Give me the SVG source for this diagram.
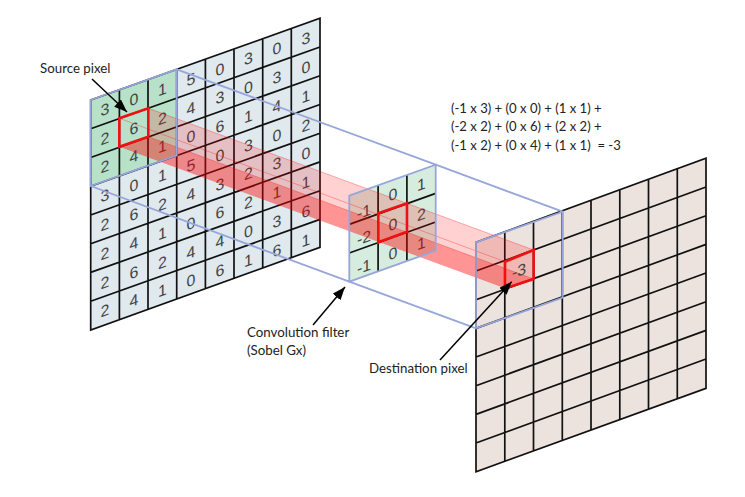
<svg xmlns="http://www.w3.org/2000/svg" width="745" height="497" viewBox="0 0 745 497">
<defs>
<marker id="ah" markerUnits="userSpaceOnUse" markerWidth="14" markerHeight="12" refX="13" refY="5" orient="auto"><path d="M0 0L13 5L0 10Z" fill="#000"/></marker>
</defs>
<style>
.grid{stroke:#111;stroke-width:1.7;fill:none}
.blue{fill:none;stroke:#97a6da;stroke-width:1.8}
.red{fill:none;stroke:#ee1111;stroke-width:2.6}
.n{font:16px "Liberation Sans",Arial,sans-serif;fill:#444;text-anchor:middle}
.l{font:13.3px Lato,"Open Sans",sans-serif;fill:#222}
.f{font:13.1px Lato,"Open Sans",sans-serif;fill:#222}
.arrow{stroke:#000;stroke-width:1.5;fill:none;marker-end:url(#ah)}
</style>
<rect width="745" height="497" fill="#fff"/>
<g id="source-grid">
<path d="M90.7 100L320 18.3V247.3L90.7 330Z" fill="#dfe9ee"/>
<path d="M90.7 100L176.7 69.4V155.4L90.7 186Z" fill="#b7e2c9"/>
<path class="grid" d="M90.7 100L320 18.3V247.3L90.7 330ZM119.4 89.8V319.8M148 79.6V309.6M176.7 69.4V299.4M205.4 59.2V289.2M234 49V279M262.7 38.8V268.8M291.3 28.5V258.5M90.7 128.7L320 47M90.7 157.5L320 75.7M90.7 186.2L320 104.5M90.7 215L320 133.2M90.7 243.7L320 161.9M90.7 272.4L320 190.7M90.7 301.2L320 219.4"/>
<g class="nums">
<text class="n" transform="matrix(1 -.356 0 1 105 115)">3</text><text class="n" transform="matrix(1 -.356 0 1 105 144)">2</text><text class="n" transform="matrix(1 -.356 0 1 105 172)">2</text><text class="n" transform="matrix(1 -.356 0 1 105 201)">3</text><text class="n" transform="matrix(1 -.356 0 1 105 230)">2</text><text class="n" transform="matrix(1 -.356 0 1 105 259)">2</text><text class="n" transform="matrix(1 -.356 0 1 105 288)">2</text><text class="n" transform="matrix(1 -.356 0 1 105 316)">2</text>
<text class="n" transform="matrix(1 -.356 0 1 134 105)">0</text><text class="n" transform="matrix(1 -.356 0 1 134 134)">6</text><text class="n" transform="matrix(1 -.356 0 1 134 162)">4</text><text class="n" transform="matrix(1 -.356 0 1 134 191)">0</text><text class="n" transform="matrix(1 -.356 0 1 134 220)">6</text><text class="n" transform="matrix(1 -.356 0 1 134 249)">4</text><text class="n" transform="matrix(1 -.356 0 1 134 278)">6</text><text class="n" transform="matrix(1 -.356 0 1 134 306)">4</text>
<text class="n" transform="matrix(1 -.356 0 1 162.500 95)">1</text><text class="n" transform="matrix(1 -.356 0 1 162.500 124)">2</text><text class="n" transform="matrix(1 -.356 0 1 162.500 152)">1</text><text class="n" transform="matrix(1 -.356 0 1 162.500 181)">1</text><text class="n" transform="matrix(1 -.356 0 1 162.500 210)">2</text><text class="n" transform="matrix(1 -.356 0 1 162.500 239)">1</text><text class="n" transform="matrix(1 -.356 0 1 162.500 268)">2</text><text class="n" transform="matrix(1 -.356 0 1 162.500 296)">1</text>
<text class="n" transform="matrix(1 -.356 0 1 191 85)">5</text><text class="n" transform="matrix(1 -.356 0 1 191 114)">4</text><text class="n" transform="matrix(1 -.356 0 1 191 142)">0</text><text class="n" transform="matrix(1 -.356 0 1 191 171)">5</text><text class="n" transform="matrix(1 -.356 0 1 191 200)">4</text><text class="n" transform="matrix(1 -.356 0 1 191 229)">0</text><text class="n" transform="matrix(1 -.356 0 1 191 258)">4</text><text class="n" transform="matrix(1 -.356 0 1 191 286)">0</text>
<text class="n" transform="matrix(1 -.356 0 1 220 75)">0</text><text class="n" transform="matrix(1 -.356 0 1 220 103)">3</text><text class="n" transform="matrix(1 -.356 0 1 220 132)">6</text><text class="n" transform="matrix(1 -.356 0 1 220 161)">0</text><text class="n" transform="matrix(1 -.356 0 1 220 190)">3</text><text class="n" transform="matrix(1 -.356 0 1 220 218)">6</text><text class="n" transform="matrix(1 -.356 0 1 220 247)">4</text><text class="n" transform="matrix(1 -.356 0 1 220 276)">6</text>
<text class="n" transform="matrix(1 -.356 0 1 248.500 64)">3</text><text class="n" transform="matrix(1 -.356 0 1 248.500 93)">0</text><text class="n" transform="matrix(1 -.356 0 1 248.500 122)">1</text><text class="n" transform="matrix(1 -.356 0 1 248.500 151)">3</text><text class="n" transform="matrix(1 -.356 0 1 248.500 179)">2</text><text class="n" transform="matrix(1 -.356 0 1 248.500 208)">2</text><text class="n" transform="matrix(1 -.356 0 1 248.500 237)">0</text><text class="n" transform="matrix(1 -.356 0 1 248.500 266)">1</text>
<text class="n" transform="matrix(1 -.356 0 1 277 54)">0</text><text class="n" transform="matrix(1 -.356 0 1 277 83)">3</text><text class="n" transform="matrix(1 -.356 0 1 277 112)">4</text><text class="n" transform="matrix(1 -.356 0 1 277 141)">0</text><text class="n" transform="matrix(1 -.356 0 1 277 169)">3</text><text class="n" transform="matrix(1 -.356 0 1 277 198)">1</text><text class="n" transform="matrix(1 -.356 0 1 277 227)">3</text><text class="n" transform="matrix(1 -.356 0 1 277 256)">6</text>
<text class="n" transform="matrix(1 -.356 0 1 306 44)">3</text><text class="n" transform="matrix(1 -.356 0 1 306 73)">0</text><text class="n" transform="matrix(1 -.356 0 1 306 102)">1</text><text class="n" transform="matrix(1 -.356 0 1 306 131)">2</text><text class="n" transform="matrix(1 -.356 0 1 306 159)">0</text><text class="n" transform="matrix(1 -.356 0 1 306 188)">1</text><text class="n" transform="matrix(1 -.356 0 1 306 217)">6</text><text class="n" transform="matrix(1 -.356 0 1 306 246)">1</text>
</g>
</g>
<g id="destination-grid">
<path d="M476 242.3L706 158.3V388.3L476 471.7Z" fill="#ece3df"/>
<path class="grid" d="M476 242.3L706 158.3V388.3L476 471.7ZM504.800 231.8V461.400M533.500 221.300V450.900M562.300 210.800V440.400M591 200.300V429.900M619.800 189.800V419.400M648.500 179.300V408.900M677.300 168.800V398.400M476 271L706 187M476 299.700L706 215.700M476 328.400L706 244.400M476 357L706 273M476 385.700L706 301.700M476 414.400L706 330.400M476 443L706 359"/>
</g>
<g id="filter-grid">
<path d="M349.300 195.700L435.700 164.700V250.700L349.300 281.700Z" fill="#d6ecdf"/>
<path class="grid" d="M378.100 185.400V271.400M406.900 175V261M349.300 224.400L435.700 193.400M349.300 253L435.700 222"/>
<text class="n" transform="matrix(1 -.356 0 1 364 217)">-1</text><text class="n" transform="matrix(1 -.356 0 1 364 243)">-2</text><text class="n" transform="matrix(1 -.356 0 1 364 272)">-1</text>
<text class="n" transform="matrix(1 -.356 0 1 393 200)">0</text><text class="n" transform="matrix(1 -.356 0 1 393 230)">0</text><text class="n" transform="matrix(1 -.356 0 1 393 259)">0</text>
<text class="n" transform="matrix(1 -.356 0 1 421.500 190)">1</text><text class="n" transform="matrix(1 -.356 0 1 421.500 220)">2</text><text class="n" transform="matrix(1 -.356 0 1 421.500 249)">1</text>
</g>
<g id="beam">
<path d="M148.300 108.300L533.700 250V279L148.300 136.700Z" fill="#f00" fill-opacity=".18" stroke="#f00" stroke-opacity=".3"/>
<path d="M148.300 136.700L533.700 279 505 288.300 119.300 146.700Z" fill="#f00" fill-opacity=".42"/>
<path d="M119.300 118.300L505 261.700" fill="none" stroke="#f00" stroke-opacity=".3"/>
</g>
<g id="destination-value"><text class="n" transform="matrix(1 -.356 0 1 519 276)">-3</text></g>
<g id="connectors">
<path class="blue" d="M90.700 100L176.700 69.400V155.400L90.700 186ZM176.700 69.400L435.700 164.700M90.700 186L349.300 281.700M349.300 195.700L435.700 164.700V250.700L349.300 281.700ZM435.700 164.700L562.700 211.700M349.300 281.700L476 328.300M476 242.300L562.700 211.700V297.700L476 328.300Z"/>
<path class="red" d="M119.300 118.300L148.300 108.300V136.700L119.300 146.700Z"/>
<path class="red" d="M378.300 213.300L407 203.300V231.700L378.300 242.300Z"/>
<path class="red" d="M505 261.700L533.700 250V279L505 288.300Z"/>
<path class="arrow" d="M92 79L127 112"/>
<path class="arrow" d="M313 325L345 287"/>
<path class="arrow" d="M440 360L511.700 281.700"/>
</g>
<g id="labels">
<text class="l" x="40" y="72.500">Source pixel</text>
<text class="f" x="451" y="113">(-1 x 3) + (0 x 0) + (1 x 1) +</text>
<text class="f" x="451" y="131">(-2 x 2) + (0 x 6) + (2 x 2) +</text>
<text class="f" x="451" y="150" xml:space="preserve">(-1 x 2) + (0 x 4) + (1 x 1)  = -3</text>
<text class="l" x="247" y="337">Convolution filter</text>
<text class="l" x="247" y="355">(Sobel Gx)</text>
<text class="l" x="369" y="372.500">Destination pixel</text>
</g>
</svg>
